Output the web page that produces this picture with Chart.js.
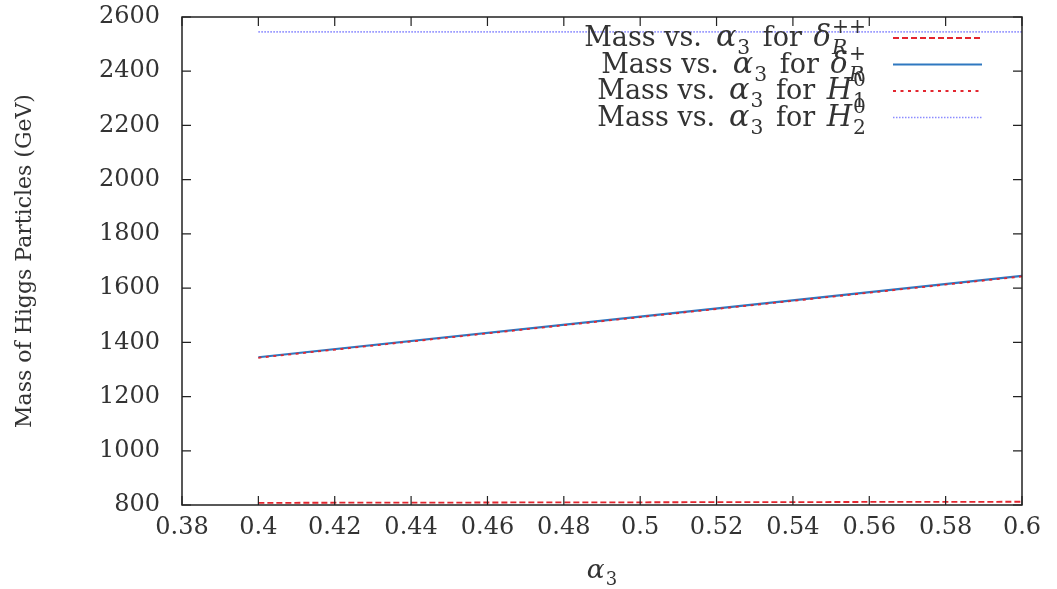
<!DOCTYPE html>
<html lang="en">
<head>
<meta charset="UTF-8">
<title>Mass of Higgs Particles vs alpha3</title>
<script src="https://cdn.jsdelivr.net/npm/chart.js"></script>
<style>
    html, body { margin: 0; padding: 0; background: #fff; }
    #wrap { width: 1057px; height: 589px; position: relative; }
</style>
</head>
<body>
<div id="wrap"><canvas id="massChart"></canvas></div>
<script>
// values
const alpha3 = [0.4, 0.5, 0.6];
const massDeltaRpp = [808, 810, 812];
const massDeltaRp = [1345, 1495, 1645];
const massH1 = [1343, 1493, 1643];
const massH2 = [2545, 2545, 2545];

const xTicks = [0.38, 0.40, 0.42, 0.44, 0.46, 0.48, 0.50, 0.52, 0.54, 0.56, 0.58, 0.60];
const yTicks = [800, 1000, 1200, 1400, 1600, 1800, 2000, 2200, 2400, 2600];

// legend entries: [particle symbol, superscript, subscript]
const legendSymbols = [
    ['δ', '++', 'R'],
    ['δ', '+', 'R'],
    ['H', '0', '1'],
    ['H', '0', '2']
];

const SERIF = "'DejaVu Serif', serif";
const TEXT = '#333';

function fontStr(italic, size) {
    return (italic ? 'italic ' : '') + size + 'px ' + SERIF;
}

function toPoints(ys) {
    return alpha3.map((x, i) => ({ x: x, y: ys[i] }));
}

// parts: {t, it, k (size factor), sub, sup, subIt, gap}
function richWidth(ctx, parts, size) {
    let w = 0;
    parts.forEach(p => {
        ctx.font = fontStr(p.it, size * (p.k || 1));
        w += ctx.measureText(p.t).width;
        let extra = 0;
        if (p.sub) { ctx.font = fontStr(p.subIt, size * 0.75); extra = ctx.measureText(p.sub).width + 1; }
        if (p.sup) { ctx.font = fontStr(false, size * 0.75); extra = Math.max(extra, ctx.measureText(p.sup).width + 1); }
        w += extra + (p.gap || 0);
    });
    return w;
}

function drawRich(ctx, parts, x, baseline, size) {
    ctx.textBaseline = 'alphabetic';
    ctx.textAlign = 'left';
    parts.forEach(p => {
        ctx.font = fontStr(p.it, size * (p.k || 1));
        ctx.fillText(p.t, x, baseline);
        x += ctx.measureText(p.t).width;
        let extra = 0;
        if (p.sub) {
            ctx.font = fontStr(p.subIt, size * 0.75);
            ctx.fillText(p.sub, x + 1, baseline + size * 0.3);
            extra = ctx.measureText(p.sub).width + 1;
        }
        if (p.sup) {
            ctx.font = fontStr(false, size * 0.75);
            ctx.fillText(p.sup, x + 1, baseline - size * 0.48);
            extra = Math.max(extra, ctx.measureText(p.sup).width + 1);
        }
        x += extra + (p.gap || 0);
    });
}

const framePlugin = {
    id: 'frame',
    afterDatasetsDraw(chart) {
        const ctx = chart.ctx;
        const a = chart.chartArea;
        const xs = chart.scales.x, ys = chart.scales.y;
        const tl = 9;
        ctx.save();
        ctx.strokeStyle = '#222';
        ctx.lineWidth = 1.5;
        ctx.strokeRect(a.left, a.top, a.right - a.left, a.bottom - a.top);
        ctx.lineWidth = 1.2;
        ctx.beginPath();
        xs.ticks.forEach(t => {
            const px = xs.getPixelForValue(t.value);
            ctx.moveTo(px, a.bottom); ctx.lineTo(px, a.bottom - tl);
            ctx.moveTo(px, a.top); ctx.lineTo(px, a.top + tl);
        });
        ys.ticks.forEach(t => {
            const py = ys.getPixelForValue(t.value);
            ctx.moveTo(a.left, py); ctx.lineTo(a.left + tl, py);
            ctx.moveTo(a.right, py); ctx.lineTo(a.right - tl, py);
        });
        ctx.stroke();

        // x axis title: alpha_3
        ctx.fillStyle = TEXT;
        const xTitle = [{ t: 'α', it: true, k: 1.1, sub: '3' }];
        const w = richWidth(ctx, xTitle, 24);
        drawRich(ctx, xTitle, (a.left + a.right) / 2 - w / 2, 578, 24);

        // legend
        const size = 27;
        const rightText = 866, lineX0 = 893, lineX1 = 982;
        const rowY = [38, 64.5, 91, 117.5];
        chart.data.datasets.forEach((ds, i) => {
            const s = legendSymbols[i];
            const parts = [
                { t: 'Mass vs.', gap: 14 },
                { t: 'α', it: true, k: 1.12, sub: '3', gap: 4 },
                { t: ' for ', gap: 3 },
                { t: s[0], it: true, k: 1.08, sup: s[1], sub: s[2], subIt: s[2] === 'R' }
            ];
            const lw = richWidth(ctx, parts, size);
            ctx.fillStyle = TEXT;
            drawRich(ctx, parts, rightText - lw, rowY[i] + 8, size);
            ctx.strokeStyle = ds.borderColor;
            ctx.lineWidth = ds.borderWidth;
            ctx.setLineDash(ds.borderDash || []);
            ctx.beginPath();
            ctx.moveTo(lineX0, rowY[i]);
            ctx.lineTo(lineX1, rowY[i]);
            ctx.stroke();
            ctx.setLineDash([]);
        });
        ctx.restore();
    }
};

new Chart(document.getElementById('massChart'), {
    type: 'line',
    data: {
        datasets: [
            { data: toPoints(massDeltaRpp), borderColor: '#e3262f', borderWidth: 1.8, borderDash: [6, 3], order: 3 },
            { data: toPoints(massDeltaRp), borderColor: '#2f78c0', borderWidth: 2.2, order: 2 },
            { data: toPoints(massH1), borderColor: '#e3262f', borderWidth: 1.8, borderDash: [3, 4.5], order: 1 },
            { data: toPoints(massH2), borderColor: '#8c8cff', borderWidth: 1.6, borderDash: [1.5, 1.5], order: 0 }
        ]
    },
    options: {
        responsive: true,
        maintainAspectRatio: false,
        animation: false,
        layout: { padding: { top: 17, right: 35, left: 0, bottom: 0 } },
        elements: { point: { radius: 0 }, line: { tension: 0, fill: false } },
        plugins: { legend: { display: false }, tooltip: { enabled: false } },
        scales: {
            x: {
                type: 'linear',
                min: 0.38,
                max: 0.6,
                afterBuildTicks: s => { s.ticks = xTicks.map(v => ({ value: v })); },
                afterFit: s => { s.height = 84; s.paddingLeft = 0; s.paddingRight = 0; },
                grid: { display: false, drawTicks: false },
                border: { display: false },
                ticks: {
                    padding: 8,
                    color: TEXT,
                    font: { family: SERIF, size: 24 },
                    maxRotation: 0,
                    autoSkip: false,
                    callback: v => String(parseFloat(v.toFixed(2)))
                }
            },
            y: {
                min: 800,
                max: 2600,
                afterBuildTicks: s => { s.ticks = yTicks.map(v => ({ value: v })); },
                afterFit: s => { s.width = 182; s.paddingTop = 0; s.paddingBottom = 0; },
                grid: { display: false, drawTicks: false },
                border: { display: false },
                ticks: {
                    padding: 22,
                    color: TEXT,
                    font: { family: SERIF, size: 24 },
                    autoSkip: false,
                    callback: v => String(v)
                },
                title: {
                    display: true,
                    text: 'Mass of Higgs Particles (GeV)',
                    color: TEXT,
                    font: { family: SERIF, size: 22 },
                    padding: { top: 12, bottom: 0 }
                }
            }
        }
    },
    plugins: [framePlugin]
});
</script>
</body>
</html>
